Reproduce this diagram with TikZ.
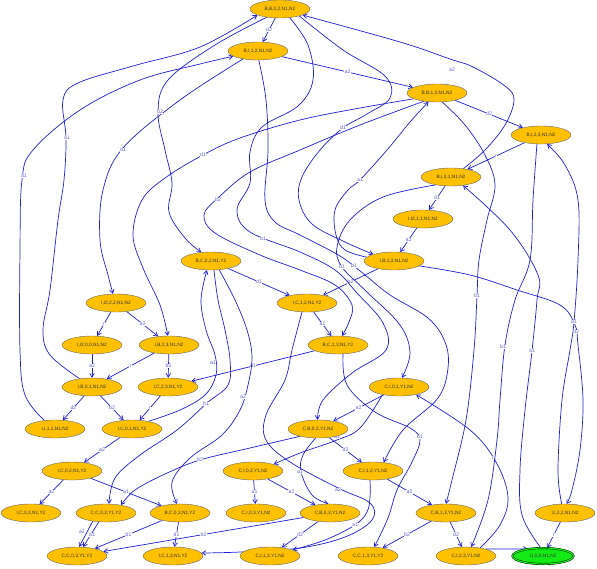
\documentclass[tikz,border=0pt]{standalone}
\usepackage{fontspec}
\setmainfont{Liberation Sans}
\usetikzlibrary{shapes.geometric, arrows.meta, backgrounds}
\definecolor{stateColor}{RGB}{255,192,0}
\definecolor{initColor}{RGB}{20,235,20}
\definecolor{edgeColor}{RGB}{30,30,215}
\definecolor{labelColor}{RGB}{95,95,210}
\tikzstyle{diagram} = [x = 1pt, y = -1pt]
\tikzstyle{stateStyle} = [ellipse, draw=black!60, fill=stateColor, text=black!80, minimum width=60pt, minimum height=18pt, inner sep=1pt, font=\fontsize{4.8}{5}\selectfont]
\tikzstyle{initStyle} = [stateStyle, draw=black, fill=initColor, double=initColor, double distance=1.2pt, minimum width=61pt, minimum height=16pt]
\tikzstyle{edgeStyle} = [color=edgeColor, line width=.7pt, -{Straight Barb[length=3.8pt, width=4.6pt]}]
\tikzstyle{labelStyle} = [font=\fontsize{5.2}{6}\selectfont, text=labelColor, fill=white, inner sep=.4pt]
\newcommand{\stateNode}[4]{\node [stateStyle] (#1) at (#2, #3) {#4};}
\newcommand{\straightEdge}[3]{\draw [edgeStyle] (#1) -- (#2) node [labelStyle, midway] (#1#2) {#3};}
\newcommand{\edgeLabel}[4]{\node [labelStyle] (#1) at (#2, #3) {#4};}

\begin{document}
\begin{tikzpicture}[diagram]
  \useasboundingbox (0,0) rectangle (597,568);
  \stateNode{BB02}{280}{9}{B,B,0,2,N1,N2}
  \stateNode{BI12}{258}{51}{B,I,1,2,N1,N2}
  \stateNode{BB13}{437}{93}{B,B,1,3,N1,N2}
  \stateNode{BI23}{541}{135}{B,I,2,3,N1,N2}
  \stateNode{BI01}{451}{177}{B,I,0,1,N1,N2}
  \stateNode{IItwo11}{423}{219}{I,I2,1,1,N1,N2}
  \stateNode{IB12}{394}{261}{I,B,1,2,N1,N2}
  \stateNode{BC02}{211}{261}{B,C,0,2,N1,Y2}
  \stateNode{IC12}{307}{303}{I,C,1,2,N1,Y2}
  \stateNode{IItwo22}{116}{303}{I,I2,2,2,N1,N2}
  \stateNode{IItwo00}{92}{345}{I,I2,0,0,N1,N2}
  \stateNode{IB23}{169}{345}{I,B,2,3,N1,N2}
  \stateNode{BC13}{338}{345}{B,C,1,3,N1,Y2}
  \stateNode{IB01}{92}{387}{I,B,0,1,N1,N2}
  \stateNode{IC23}{168}{387}{I,C,2,3,N1,Y2}
  \stateNode{CI01}{399}{387}{C,I,0,1,Y1,N2}
  \stateNode{II11}{55}{429}{I,I,1,1,N1,N2}
  \stateNode{IC01}{132}{429}{I,C,0,1,N1,Y2}
  \stateNode{CB02}{318}{429}{C,B,0,2,Y1,N2}
  \stateNode{IC02}{72}{471}{I,C,0,2,N1,Y2}
  \stateNode{CI02}{253}{471}{C,I,0,2,Y1,N2}
  \stateNode{CI12}{373}{471}{C,I,1,2,Y1,N2}
  \stateNode{IC03}{31}{513}{I,C,0,3,N1,Y2}
  \stateNode{CC02}{106}{513}{C,C,0,2,Y1,Y2}
  \stateNode{BC03}{180}{513}{B,C,0,3,N1,Y2}
  \stateNode{CI03}{256}{513}{C,I,0,3,Y1,N2}
  \stateNode{CB03}{330}{513}{C,B,0,3,Y1,N2}
  \stateNode{CB13}{446}{513}{C,B,1,3,Y1,N2}
  \stateNode{II22}{565}{513}{I,I,2,2,N1,N2}
  \stateNode{CC03}{77}{556}{C,C,0,3,Y1,Y2}
  \stateNode{IC13}{173}{556}{I,C,1,3,N1,Y2}
  \stateNode{CI13}{270}{556}{C,I,1,3,Y1,N2}
  \stateNode{CC13}{368}{556}{C,C,1,3,Y1,Y2}
  \stateNode{CI23}{466}{556}{C,I,2,3,Y1,N2}
  \node [initStyle] (II00) at (543, 556) {I,I,0,0,N1,N2};

  \begin{scope}[on background layer]
    % short transitions
    \foreach \from/\to/\lbl in {BB02/BI12/d2, BI12/BB13/a2, BB13/BI23/d2, BI23/BI01/r,
        BI01/IItwo11/d1, IItwo11/IB12/a2, IB12/IC12/b2, BC02/IC12/d1, IC12/BC13/a1,
        IItwo22/IItwo00/r, IItwo22/IB23/a2, IItwo00/IB01/a2, IB23/IB01/r, IB23/IC23/b2,
        IB01/II11/d2, IB01/IC01/b2, IC23/IC01/r, IC01/IC02/a2, IC02/IC03/a2, IC02/BC03/a1,
        BC03/CC03/b1, BC03/IC13/d1, CB03/CC03/b2, CI02/CI03/a1, CI02/CB03/a2, CB02/CI12/d2,
        CI01/CB02/a2, CI12/CB13/a2, CB13/CI23/d2, CB13/CC13/b2, CB03/CI13/d2, II22/II00/r,
        BC13/IC23/d1} {
      \straightEdge{\from}{\to}{\lbl}
    }
    \draw [edgeStyle] (CC02.212) -- (CC03.77);
    \draw [edgeStyle] (CC02.231) -- (CC03.56);
    \draw [edgeStyle] (CI23.20) -- (II00.155);

    % long transitions
    \draw [edgeStyle] plot [smooth, tension=.6] coordinates {(BB02.212) (215,45) (168,80) (158,112) (165,150) (172,183) (169,212) (185,238) (BC02.138)};
    \draw [edgeStyle] plot [smooth, tension=.6] coordinates {(BB02.340) (343,50) (385,76) (390,98) (367,114) (343,128) (320,150) (302,177) (299,200) (312,224) (345,242) (IB12.162)};
    \draw [edgeStyle] plot [smooth, tension=.6] coordinates {(BB02.318) (308,45) (313,80) (298,106) (262,127) (250,152) (250,183) (237,210) (250,232) (300,252) (335,270) (357,293) (383,323) (386,350) (352,373) (323,400) (CB02.93)};
    \draw [edgeStyle] plot [smooth, tension=.6] coordinates {(BB13.194) (360,108) (300,120) (240,138) (203,155) (165,178) (142,200) (133,235) (143,268) (160,305) (IB23.97)};
    \draw [edgeStyle] plot [smooth, tension=.6] coordinates {(BB13.212) (360,125) (300,150) (250,172) (218,198) (204,215) (215,233) (260,255) (300,270) (335,285) (352,305) (349,322) (BC13.66)};
    \draw [edgeStyle] plot [smooth, tension=.6] coordinates {(BB13.300) (465,125) (485,155) (495,185) (487,220) (479,260) (477,296) (474,350) (466,420) (452,480) (CB13.90)};
    \draw [edgeStyle] plot [smooth, tension=.6] coordinates {(BI01.34) (485,150) (505,125) (514,100) (505,86) (473,67) (450,59) (400,42) (BB02.345)};
    \draw [edgeStyle] plot [smooth, tension=.6] coordinates {(BI01.207) (383,197) (350,220) (337,247) (342,267) (367,292) (400,325) (410,353) (CI01.72)};
    \draw [edgeStyle] plot [smooth, tension=.6] coordinates {(BI12.275) (266,100) (268,150) (265,200) (275,222) (300,235) (340,256) (365,275) (390,295) (428,318) (445,342) (448,368) (438,398) (403,430) (CI12.39)};
    \draw [edgeStyle] plot [smooth, tension=.6] coordinates {(BI12.208) (180,100) (123,148) (103,190) (100,240) (108,275) (IItwo22.108)};
    \draw [edgeStyle] plot [smooth, tension=.6] coordinates {(II11.141) (25,395) (20,350) (20,250) (22,180) (33,150) (80,110) (140,80) (200,64) (BI12.192)};
    \draw [edgeStyle] plot [smooth, tension=.6] coordinates {(IB01.146) (50,355) (43,330) (50,290) (58,220) (64,180) (66,138) (63,100) (78,83) (133,66) (200,47) (BB02.195)};
    \draw [edgeStyle] plot [smooth, tension=.6] coordinates {(IB12.172) (345,250) (336,235) (335,210) (348,190) (360,180) (387,150) (410,122) (BB13.226)};
    \draw [edgeStyle] plot [smooth, tension=.6] coordinates {(IB12.349) (470,275) (517,290) (560,305) (575,325) (578,345) (583,400) (580,450) (572,490) (II22.80)};
    \draw [edgeStyle] plot [smooth, tension=.6] coordinates {(II22.110) (558,470) (562,400) (570,350) (574,322) (578,260) (578,200) (565,165) (BI23.304)};
    \draw [edgeStyle] plot [smooth, tension=.6] coordinates {(II00.105) (522,515) (520,470) (525,410) (532,351) (537,300) (538,275) (510,230) (BI01.325)};
    \draw [edgeStyle] plot [smooth, tension=.6] coordinates {(BI23.246) (533,200) (530,260) (515,300) (505,345) (500,400) (497,440) (488,500) (CI23.60)};
    \draw [edgeStyle] plot [smooth, tension=.6] coordinates {(CI23.30) (500,525) (508,497) (496,462) (470,430) (CI01.336)};
    \draw [edgeStyle] plot [smooth, tension=.6] coordinates {(BC02.288) (218,300) (225,330) (230,360) (228,385) (207,403) (177,430) (140,455) (115,478) (CC02.72)};
    \draw [edgeStyle] plot [smooth, tension=.6] coordinates {(BC02.313) (235,300) (247,330) (252,357) (248,385) (240,410) (222,435) (190,458) (172,482) (BC03.108)};
    \draw [edgeStyle] plot [smooth, tension=.6] coordinates {(IC01.25) (180,410) (205,395) (216,375) (215,355) (206,330) (201,300) (BC02.246)};
    \draw [edgeStyle] plot [smooth, tension=.6] coordinates {(IC12.241) (292,350) (285,380) (266,415) (266,440) (290,462) (338,488) (370,503) (372,520) (345,537) (300,548) (240,552) (IC13.6)};
    \draw [edgeStyle] plot [smooth, tension=.6] coordinates {(CI12.252) (370,497) (367,512) (355,525) (325,540) (CI13.15)};
    \draw [edgeStyle] plot [smooth, tension=.6] coordinates {(BC13.299) (347,385) (375,412) (410,428) (420,440) (412,462) (397,490) (388,518) (CC13.55)};
    \draw [edgeStyle] plot [smooth, tension=.6] coordinates {(CI01.205) (360,428) (337,440) (300,453) (CI02.18)};
    \draw [edgeStyle] plot [smooth, tension=.6] coordinates {(CB02.202) (250,448) (200,460) (165,474) (135,490) (CC02.28)};
    \draw [edgeStyle] plot [smooth, tension=.6] coordinates {(CB02.255) (303,455) (301,472) (312,495) (CB03.100)};

    % labels of the long transitions
    \edgeLabel{lblCCa}{82}{532}{a2}
    \edgeLabel{lblCCb}{92}{535}{a1}
    \edgeLabel{lblBBbtwo}{160}{112}{b2}
    \edgeLabel{lblBBdone}{343}{128}{d1}
    \edgeLabel{lblBBbone}{263}{239}{b1}
    \edgeLabel{lblBBthreeD}{203}{155}{d1}
    \edgeLabel{lblBBthreeB}{218}{200}{b2}
    \edgeLabel{lblBBthreeC}{477}{296}{b1}
    \edgeLabel{lblBIzeroA}{452}{70}{a2}
    \edgeLabel{lblBIzeroB}{342}{267}{b1}
    \edgeLabel{lblBIoneB}{354}{266}{b1}
    \edgeLabel{lblBIoneD}{123}{150}{d1}
    \edgeLabel{lblIIoneA}{24}{176}{a1}
    \edgeLabel{lblIBzeroA}{67}{138}{a1}
    \edgeLabel{lblIBoneA}{360}{180}{a1}
    \edgeLabel{lblIBoneD}{576}{332}{d2}
    \edgeLabel{lblIItwoA}{574}{322}{a1}
    \edgeLabel{lblIIzeroA}{532}{351}{a1}
    \edgeLabel{lblBItwoB}{503}{347}{b1}
    \edgeLabel{lblCItwoR}{493}{458}{r}
    \edgeLabel{lblBCzeroB}{206}{404}{b1}
    \edgeLabel{lblBCzeroA}{243}{397}{a2}
    \edgeLabel{lblICzeroA}{213}{363}{a1}
    \edgeLabel{lblIConeA}{338}{490}{a2}
    \edgeLabel{lblCIoneA}{355}{525}{a1}
    \edgeLabel{lblBConeB}{420}{437}{b1}
    \edgeLabel{lblCIzeroA}{337}{437}{a1}
    \edgeLabel{lblCBzeroB}{200}{460}{b2}
    \edgeLabel{lblCBzeroA}{300}{472}{a1}
  \end{scope}
\end{tikzpicture}
\end{document}
